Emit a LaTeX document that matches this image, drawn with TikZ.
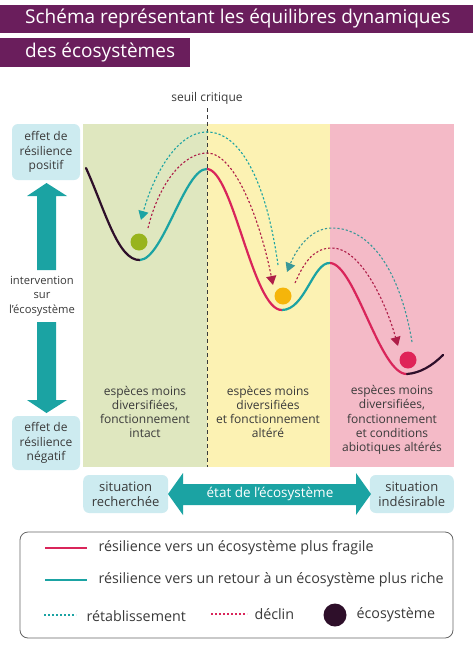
\documentclass[tikz,border=0pt]{standalone}
\usepackage{fontspec}
\setmainfont{Open Sans}
\usetikzlibrary{arrows.meta}
\definecolor{titlepurple}{HTML}{6A1E5C}
\definecolor{tealc}{HTML}{1BA3A3}
\definecolor{redc}{HTML}{D9255A}
\definecolor{boxc}{HTML}{CDEBF0}
\definecolor{greenbg}{HTML}{DFE7BF}
\definecolor{yellowbg}{HTML}{FCF2B3}
\definecolor{pinkbg}{HTML}{F4BAC7}
\definecolor{txt}{HTML}{3A3A3A}
\definecolor{ballgreen}{HTML}{98B41E}
\definecolor{ballyellow}{HTML}{F5B50A}
\definecolor{ballred}{HTML}{DF2458}
\definecolor{ecodark}{HTML}{2E0F2A}
\tikzset{
  body/.style={font=\fontsize{12}{14.3}\selectfont, text=txt, align=center},
  sidebox/.style={fill=boxc, rounded corners=6pt, minimum width=68pt, inner sep=1pt, body},
  titlebar/.style={fill=titlepurple, text=white, font=\fontsize{19}{21}\selectfont, anchor=west, inner sep=0pt},
  curve/.style={line width=2.2pt},
  dashc/.style={line width=1.1pt, dash pattern=on 2.2pt off 2pt},
  tip/.style={-{Triangle[length=9pt,width=10pt]}},
  legtext/.style={font=\fontsize{14.3}{16}\selectfont, text=txt, anchor=west}
}
\begin{document}
\begin{tikzpicture}[x=1pt,y=-1pt]
\useasboundingbox (0,0) rectangle (474,648);
\fill[white] (0,0) rectangle (474,648);
% title
\fill[titlepurple] (0,5) rectangle (473,33);
\fill[titlepurple] (0,38) rectangle (190,67);
\node[titlebar, fill=none] (t1) at (25,19) {Schéma représentant les équilibres dynamiques};
\node[titlebar, fill=none] (t2) at (25,52.5) {des écosystèmes};
% backgrounds
\fill[greenbg] (83,124) rectangle (207,467);
\fill[yellowbg] (207,124) rectangle (330,467);
\fill[pinkbg] (330,124) rectangle (454,467);
\node[body, font=\fontsize{12}{13}\selectfont] (seuil) at (207,98) {seuil critique};
\draw[txt, line width=0.8pt, dash pattern=on 4pt off 3pt] (207,108) -- (207,467);
% region texts
\node[body] (rg) at (145,412) {espèces moins\\diversifiées,\\fonctionnement\\intact};
\node[body] (ry) at (268,412) {espèces moins\\diversifiées\\et fonctionnement\\altéré};
\node[body] (rp) at (392,420) {espèces moins\\diversifiées,\\fonctionnement\\et conditions\\abiotiques altérés};
% left side
\node[sidebox, minimum height=56pt] (pos) at (46,152) {effet de\\résilience\\positif};
\node[sidebox, minimum height=54pt] (neg) at (46,443) {effet de\\résilience\\négatif};
\fill[tealc] (37,270) -- (37,196) -- (27,196) -- (46.5,183) -- (67,196) -- (56,196) -- (56,270) -- cycle;
\fill[tealc] (37,322) -- (37,400) -- (27,400) -- (46.5,413) -- (67,400) -- (56,400) -- (56,322) -- cycle;
\node[body, font=\fontsize{11.2}{14.3}\selectfont] (interv) at (42,296) {intervention\\sur\\l'écosystème};
% bottom
\node[sidebox, minimum width=85pt, minimum height=38pt, anchor=west, font=\fontsize{13}{15}\selectfont] (rech) at (83,494) {situation\\recherchée};
\node[sidebox, minimum width=84pt, minimum height=38pt, anchor=east, font=\fontsize{13}{15}\selectfont] (inde) at (454,494) {situation\\indésirable};
\fill[tealc] (168,494) -- (183,473) -- (183,484) -- (356,484) -- (356,473) -- (371,494) -- (356,515) -- (356,505) -- (183,505) -- (183,515) -- cycle;
\node[body, text=white, font=\fontsize{13.5}{15}\selectfont] (etat) at (270,494) {état de l'écosystème};
% curve coordinates
\coordinate (s0) at (86,168);
\coordinate (m1) at (140,260);
\coordinate (p1) at (207,169);
\coordinate (m2) at (282,310);
\coordinate (p2) at (330,263);
\coordinate (m3) at (407,374);
\coordinate (e0) at (443,355);
\draw[curve, ecodark, line cap=round] (s0) .. controls (105,210) and (118,261) .. (m1);
\draw[curve, tealc] (m1) .. controls (163,259) and (185,168) .. (p1);
\draw[curve, redc] (p1) .. controls (233,170) and (253,311) .. (m2);
\draw[curve, tealc] (m2) .. controls (305,310) and (313,262) .. (p2);
\draw[curve, redc] (p2) .. controls (355,264) and (380,375) .. (m3);
\draw[curve, ecodark, line cap=round] (m3) .. controls (420,373) and (432,366) .. (e0);
% balls
\fill[ballgreen] (139,242) circle (8.5);
\fill[ballyellow] (283,296) circle (8.5);
\fill[ballred] (408,360) circle (8.5);
% dashed arrows
\coordinate (a1s) at (278,265);
\coordinate (a1t) at (207,132);
\coordinate (a1e) at (141,220);
\draw[dashc, tealc, tip] (a1s) .. controls (266,180) and (240,132) .. (a1t) .. controls (175,132) and (152,180) .. (a1e);
\coordinate (b1s) at (148,228);
\coordinate (b1t) at (207,153);
\coordinate (b1e) at (273,285);
\draw[dashc, redc!80!black, tip] (b1s) .. controls (160,180) and (185,153) .. (b1t) .. controls (235,153) and (260,220) .. (b1e);
\coordinate (a2s) at (412,342);
\coordinate (a2t) at (332,228);
\coordinate (a2e) at (287,272);
\draw[dashc, tealc!70!gray, tip] (a2s) .. controls (400,270) and (370,228) .. (a2t) .. controls (310,228) and (296,250) .. (a2e);
\coordinate (b2s) at (295,283);
\coordinate (b2t) at (332,248);
\coordinate (b2e) at (398,346);
\draw[dashc, redc!80!black, tip] (b2s) .. controls (305,260) and (315,248) .. (b2t) .. controls (360,248) and (385,300) .. (b2e);
% legend
\draw[gray!80!black, line width=0.8pt, rounded corners=8pt] (20,532) rectangle (453,638);
\coordinate (l1a) at (45,548); \coordinate (l1b) at (87,548);
\draw[redc, line width=2.5pt] (l1a) -- (l1b);
\node[legtext] (lt1) at (95,548) {résilience vers un écosystème plus fragile};
\coordinate (l2a) at (45,580); \coordinate (l2b) at (87,580);
\draw[tealc, line width=2.5pt] (l2a) -- (l2b);
\node[legtext] (lt2) at (95,580) {résilience vers un retour à un écosystème plus riche};
\coordinate (l3a) at (44,615); \coordinate (l3b) at (76,615);
\draw[tealc, line width=1.2pt, dash pattern=on 2pt off 2pt] (l3a) -- (l3b);
\node[legtext] (lt3) at (83,616) {rétablissement};
\coordinate (l4a) at (211,614); \coordinate (l4b) at (247,614);
\draw[redc, line width=1.2pt, dash pattern=on 2pt off 2pt] (l4a) -- (l4b);
\node[legtext] (lt4) at (251,614) {déclin};
\fill[ecodark] (335,615) circle (11.5);
\node[legtext] (lt5) at (353,615) {écosystème};
\end{tikzpicture}
\end{document}
